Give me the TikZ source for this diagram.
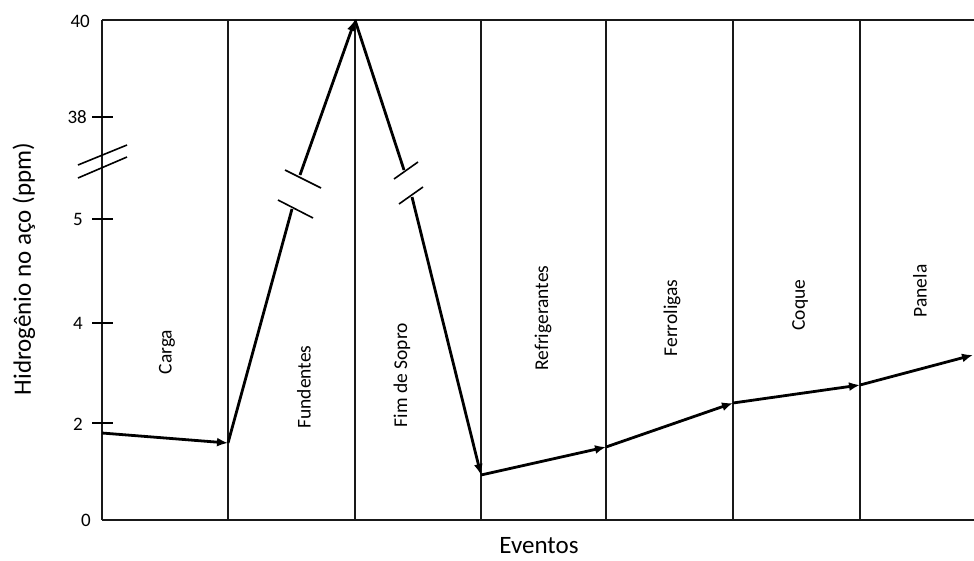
\documentclass[tikz,border=0pt]{standalone}
\usepackage{fontspec}
\setmainfont{Carlito}
\usetikzlibrary{arrows.meta}
\begin{document}
\begin{tikzpicture}[x=1pt,y=-1pt,
  frame/.style={line width=1.6pt,black!90},
  tickmark/.style={line width=2.8pt},
  brk/.style={line width=1.6pt},
  data/.style={line width=2.8pt},
  dataarrow/.style={data,-{Latex[length=11pt,width=9pt]}},
  tlabel/.style={font=\fontsize{19}{19}\selectfont,inner sep=0pt},
  evlabel/.style={font=\fontsize{19.5}{19.5}\selectfont,rotate=90,inner sep=0pt},
  axtitle/.style={font=\fontsize{25}{25}\selectfont,inner sep=0pt}]
\useasboundingbox (0,0) rectangle (974,560);
% frame
\coordinate (tl) at (102,20);
\coordinate (bl) at (102,520);
\coordinate (tr) at (974,20);
\coordinate (br) at (974,520);
\draw[frame] (tl) -- (tr);
\draw[frame] (bl) -- (br);
\draw[frame] (tl) -- (bl);
\foreach \xx/\nm in {228/a,355/b,481/c,606/d,733/e,860/f}{
  \coordinate (t\nm) at (\xx,20);
  \coordinate (b\nm) at (\xx,520);
  \draw[frame] (t\nm) -- (b\nm);
}
% ticks
\foreach \yy/\nm in {117/k38,219/k5,323/k4,423/k2}{
  \coordinate (\nm l) at (92,\yy);
  \coordinate (\nm r) at (113,\yy);
  \draw[tickmark] (\nm l) -- (\nm r);
}
\node[tlabel,anchor=east] (l40) at (90,21) {40};
\node[tlabel,anchor=east] (l38) at (87,117) {38};
\node[tlabel,anchor=east] (l5) at (83,219) {5};
\node[tlabel,anchor=east] (l4) at (83,323) {4};
\node[tlabel,anchor=east] (l2) at (83,424) {2};
\node[tlabel,anchor=east] (l0) at (91,520) {0};
% axis break
\coordinate (ya1) at (78,165); \coordinate (ya2) at (127,145);
\coordinate (yb1) at (78,178); \coordinate (yb2) at (127,157);
\draw[brk] (ya1) -- (ya2);
\draw[brk] (yb1) -- (yb2);
% data points
\coordinate (p0) at (102,433);
\coordinate (p1) at (228,443);
\coordinate (u1) at (292,209);
\coordinate (u2) at (300,175);
\coordinate (pk) at (355,20);
\coordinate (d1) at (404,170);
\coordinate (d2) at (412,197);
\coordinate (p3) at (481,475);
\coordinate (p4) at (606,447);
\coordinate (p5) at (733,403);
\coordinate (p6) at (860,385);
\coordinate (p7) at (973,355);
\draw[dataarrow] (p0) -- (p1);
\draw[data] (p1) -- (u1);
\draw[dataarrow] (u2) -- (pk);
\draw[data] (pk) -- (d1);
\draw[dataarrow] (d2) -- (p3);
\draw[dataarrow] (p3) -- (p4);
\draw[dataarrow] (p4) -- (p5);
\draw[dataarrow] (p5) -- (p6);
\draw[dataarrow] (p6) -- (p7);
% break marks on data line
\coordinate (la1) at (285,170); \coordinate (la2) at (321,188);
\coordinate (lb1) at (278,200); \coordinate (lb2) at (313,218);
\coordinate (ra1) at (394,179); \coordinate (ra2) at (418,162);
\coordinate (rb1) at (399,204); \coordinate (rb2) at (423,187);
\draw[brk] (la1) -- (la2);
\draw[brk] (lb1) -- (lb2);
\draw[brk] (ra1) -- (ra2);
\draw[brk] (rb1) -- (rb2);
% event labels
\node[evlabel] (carga) at (167,352) {Carga};
\node[evlabel] (fund) at (304,387) {Fundentes};
\node[evlabel] (fim) at (402,375) {Fim de Sopro};
\node[evlabel] (refr) at (543,318) {Refrigerantes};
\node[evlabel] (ferr) at (672,318) {Ferroligas};
\node[evlabel] (coque) at (800,305) {Coque};
\node[evlabel] (panela) at (920,291) {Panela};
% axis titles
\node[axtitle,rotate=90] (ytitle) at (24,269) {Hidrogênio no aço (ppm)};
\node[axtitle] (xtitle) at (539,546) {Eventos};
\end{tikzpicture}
\end{document}
